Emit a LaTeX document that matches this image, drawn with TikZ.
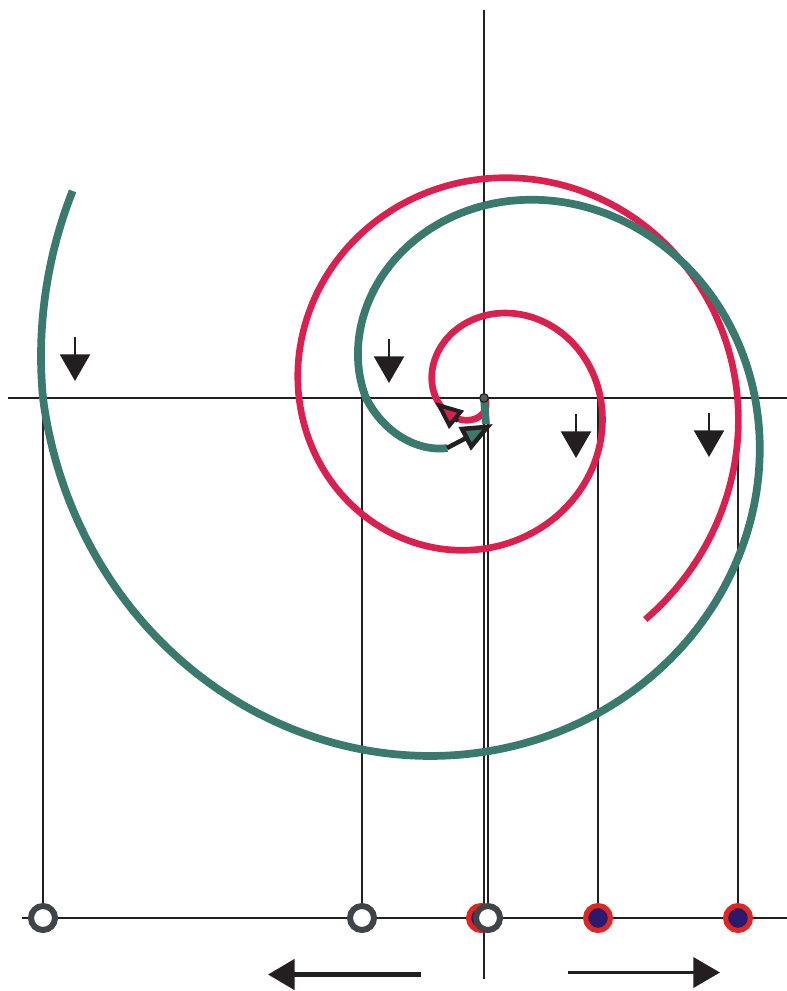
\documentclass[tikz,border=0pt]{standalone}
\usepackage{tikz}
\usetikzlibrary{arrows.meta}

\definecolor{spiralred}{RGB}{218,32,78}
\definecolor{spiralgreen}{RGB}{58,122,110}
\definecolor{ringred}{RGB}{224,38,34}
\definecolor{dotblue}{RGB}{42,26,110}
\definecolor{ringgray}{RGB}{62,68,72}
\definecolor{inkblack}{RGB}{35,31,32}
\definecolor{hubgray}{RGB}{78,94,92}

\begin{document}
\begin{tikzpicture}[x=0.75pt,y=-0.75pt]
        \tikzset{
            axis/.style={draw=inkblack, line width=1.7pt},
            drop/.style={draw=inkblack, line width=1.5pt},
            redspiral/.style={draw=spiralred, line width=5pt},
            greenspiral/.style={draw=spiralgreen, line width=5.8pt},
            hollow/.style={circle, draw=ringgray, fill=white, line width=4.5pt, minimum size=18pt, inner sep=0pt},
            full/.style={circle, draw=ringred, fill=dotblue, line width=3.8pt, minimum size=18.7pt, inner sep=0pt},
            hub/.style={circle, draw=inkblack, fill=hubgray, line width=0.8pt, minimum size=6.5pt, inner sep=0pt},
            marker/.style={draw=inkblack, line width=1.9pt, -{Triangle[length=20pt,width=22.5pt]}},
            redtip/.style={draw=inkblack, line width=3pt, -{Triangle[length=21pt,width=17pt,fill=spiralred]}},
            greentip/.style={draw=inkblack, line width=3.4pt, -{Triangle[length=24pt,width=19pt,fill=spiralgreen]}},
            declare function={
                rr(\t)=48+21.8*\t;
                gr(\t)=118+46*min(\t,6.283)+0.861*min(\t,6.283)*min(\t,6.283)+42*max(\t-6.283,0)+14.4*min(\t,0);
            }
        }
        \useasboundingbox (0,0) rectangle (787,991);
        \coordinate (O) at (484,398);
        % axes
        \draw[axis] (8,398) -- (787,398);
        \draw[axis] (484,10) -- (484,979);
        \draw[axis] (22,918) -- (787,918);
        % projections down to the line
        \node[full] (R0) at (481,918) {};
        \foreach \px/\nm in {43/G1, 362/G2, 488/G0} {
            \coordinate (a\nm) at (\px,398);
            \draw[drop] (a\nm) -- (\px,918);
        }
        \foreach \px/\nm in {598/R1, 738/R2} {
            \coordinate (a\nm) at (\px,398);
            \draw[drop] (a\nm) -- (\px,918);
        }
        % the two spirals
        \draw[redspiral] plot[domain=-2.2:10.37, samples=400, smooth, variable=\t]
            ({484-rr(\t)*cos(\t r)}, {398-rr(\t)*sin(\t r)});
        \draw[greenspiral] plot[domain=-0.94:6.75, samples=400, smooth, variable=\t]
            ({484-gr(\t)*cos(\t r)}, {398-gr(\t)*sin(\t r)});
        \coordinate (gs) at (486,424);
        \draw[greenspiral] (O) -- (gs);
        \draw[redtip] (458,421) -- (435,402);
        \draw[greentip] (447,448) -- (493,424);
        \node[hub] (H) at (O) {};
        % points on the line
        \node[hollow] (G1) at (43,918) {};
        \node[hollow] (G2) at (362,918) {};
        \node[hollow] (G0) at (488,918) {};
        \node[full] (R1) at (598,918) {};
        \node[full] (R2) at (738,918) {};
        % markers
        \foreach \px/\py in {75/337, 389/339, 576/414, 709/413}
            \draw[marker] (\px,\py) -- ++(0,44);
        \draw[draw=inkblack, line width=3.7pt, -{Triangle[length=20pt,width=22.5pt]}] (421,974.5) -- (268,974.5);
        \draw[draw=inkblack, line width=2.8pt, -{Triangle[length=20pt,width=22.5pt]}] (568,972.5) -- (720,972.5);
\end{tikzpicture}
\end{document}
